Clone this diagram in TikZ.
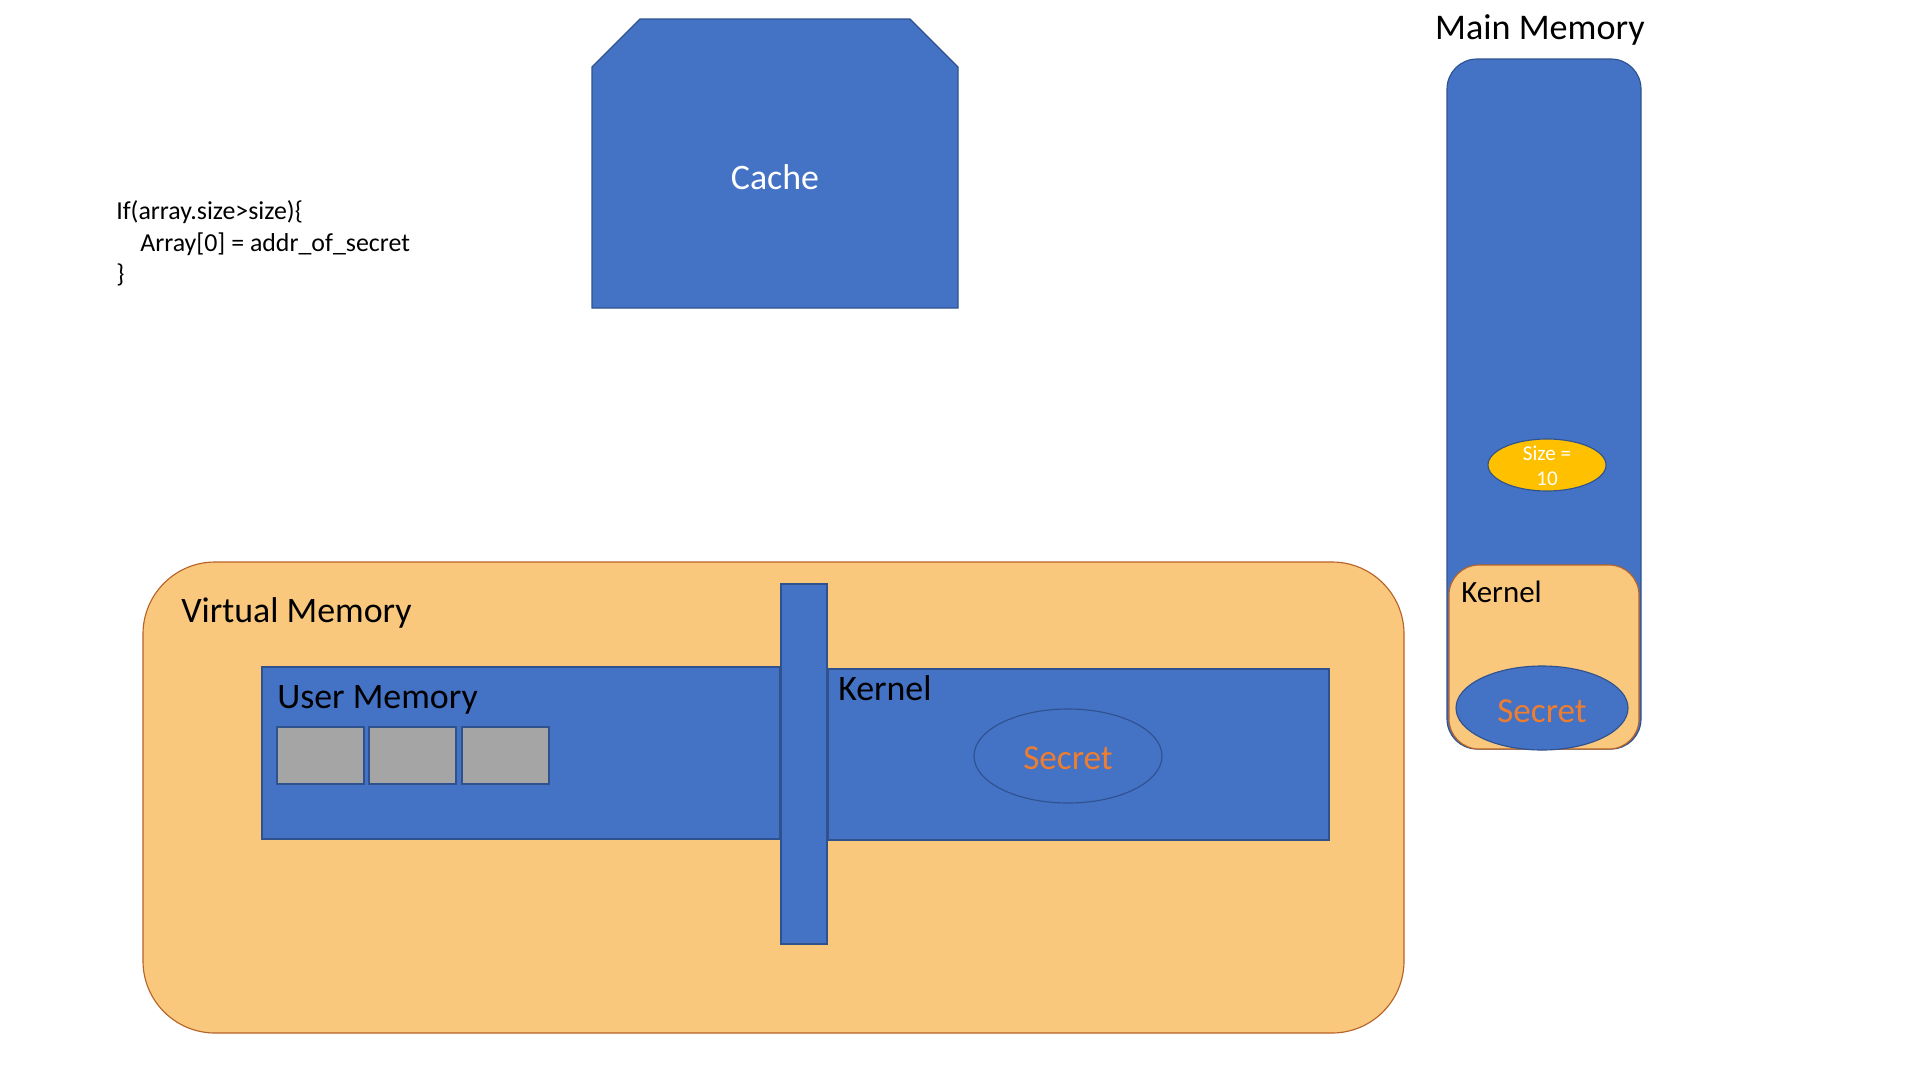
\documentclass[tikz,border=0pt]{standalone}
\usepackage{fontspec}
\setmainfont{Carlito}
\usepackage{tikz}
\usetikzlibrary{positioning}

\definecolor{memblue}{RGB}{68,114,196}
\definecolor{memblueedge}{RGB}{47,82,143}
\definecolor{memorange}{RGB}{249,200,125}
\definecolor{memorangeedge}{RGB}{183,98,38}
\definecolor{secretorange}{RGB}{237,125,49}
\definecolor{sizegold}{RGB}{255,192,0}
\definecolor{cellgray}{RGB}{165,165,165}

\tikzset{
    bluebox/.style={fill=memblue, draw=memblueedge, line width=0.8pt},
    orangebox/.style={fill=memorange, draw=memorangeedge, line width=0.8pt},
    label/.style={inner sep=0pt, font=\fontsize{25.5}{30}\selectfont},
    codeline/.style={inner sep=0pt, anchor=base west, font=\fontsize{18.4}{22}\selectfont},
    secret/.style={inner sep=0pt, text=secretorange, font=\fontsize{25}{30}\selectfont}
}

\begin{document}
\begin{tikzpicture}[x=0.025cm, y=-0.025cm]
        \useasboundingbox (0,0) rectangle (1920,1080);

        % the code snippet
        \node[codeline] (codeif) at (116,219) {If(array.size>size)\{};
        \node[codeline] (codebody) at (140,251) {Array[0] = addr\_of\_secret};
        \node[codeline] (codeend) at (116,282) {\}};

        % the cache
        \draw[bluebox] (592,308) -- (592,67) -- (640,19) -- (910,19) -- (958,67) -- (958,308) -- cycle;
        \node[label, text=white] (cache) at (775,177) {Cache};

        % main memory column
        \node[label, anchor=base, font=\fontsize{25.7}{30}\selectfont] (mmtitle) at (1540,39) {Main Memory};
        \draw[bluebox, rounded corners=0.75cm] (1447,59) rectangle (1641,749);
        \filldraw[fill=sizegold, draw=memblueedge, line width=0.8pt] (1547,465) ellipse (59 and 26);
        \node[inner sep=0pt, text=white, align=center, font=\fontsize{15}{18}\selectfont] (sizeval) at (1547,466) {Size =\\10};
        \draw[orangebox, rounded corners=0.75cm] (1449,565) rectangle (1639,749);
        \node[label, anchor=base west, font=\fontsize{22}{26}\selectfont] (mmkernel) at (1461,602) {Kernel};
        \draw[bluebox] (1542,708) ellipse (86 and 42);
        \node[secret] (mmsecret) at (1542,711) {Secret};

        % virtual memory
        \draw[orangebox, rounded corners=1.8cm] (143,562) rectangle (1404,1033);
        \node[label, anchor=base west] (vmtitle) at (181,622) {Virtual Memory};

        % user memory with the array cells
        \draw[bluebox] (262,667) rectangle (780,839);
        \node[label, anchor=base west] (usermem) at (277,708) {User Memory};
        \foreach \cx in {277,369,462}
            \draw[fill=cellgray, draw=memblueedge, line width=0.8pt] (\cx,727) rectangle ++(87,57);

        % kernel part of virtual memory
        \draw[bluebox] (828,669) rectangle (1329,840);
        \node[label, anchor=base west] (vmkernel) at (838,700) {Kernel};
        \draw[draw=memblueedge, line width=0.8pt] (1068,756) ellipse (94 and 47);
        \node[secret] (vmsecret) at (1068,758) {Secret};

        % the barrier between user and kernel
        \draw[bluebox] (781,584) rectangle (827,944);

    \end{tikzpicture}
\end{document}
